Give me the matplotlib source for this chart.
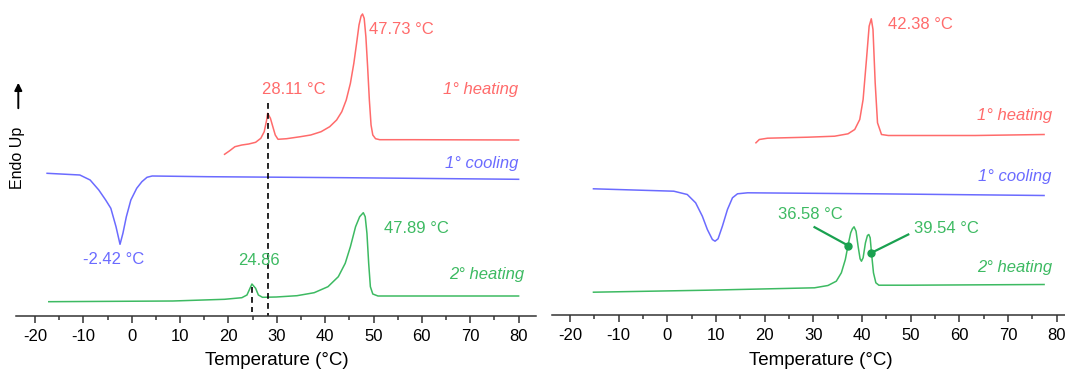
import matplotlib
matplotlib.use("Agg")
import matplotlib.pyplot as plt
from matplotlib.ticker import MultipleLocator

plt.rcParams['font.family'] = ['Liberation Sans', 'DejaVu Sans']
plt.rcParams['axes.unicode_minus'] = False

RED = '#ff6b6b'
BLUE = '#6b6bff'
GREEN = '#3dba62'
DOT = '#1aa150'

# ---- left sample: heat flow (a.u.) ----
l_heat1_T = [19.2, 20.27, 21.34, 22.77, 24.19, 25.62, 26.69, 27.4, 27.9, 28.11, 28.68,
             29.18, 29.68, 30.25, 32.03, 34.88, 37.02, 39.16, 40.94, 42.37, 43.44, 44.36,
             45.22, 45.93, 46.5, 47.0, 47.43, 47.73, 48.07, 48.42, 48.78, 49.14, 49.49,
             49.85, 50.42, 51.28, 58.4, 80.0]
l_heat1_y = [161.7, 165.3, 169.3, 171.0, 172.0, 173.7, 177.7, 184.3, 196.0, 202.7, 197.7,
             189.3, 181.0, 176.7, 177.3, 179.3, 181.0, 184.3, 189.3, 196.0, 204.3, 216.0,
             232.7, 252.7, 272.7, 291.0, 300.0, 302.0, 297.7, 279.3, 249.3, 216.0, 191.0,
             181.0, 177.3, 176.3, 176.3, 176.0]

l_cool_T = [-17.5, -10.73, -8.6, -6.81, -5.39, -4.32, -3.25, -2.42, -1.82, -1.11, -0.18,
            1.03, 2.1, 3.16, 4.23, 15.64, 44.1, 80.0]
l_cool_y = [142.7, 141.0, 136.0, 126.0, 116.0, 107.7, 89.3, 71.7, 82.7, 99.3, 116.0,
            127.7, 134.3, 138.7, 140.0, 139.3, 138.3, 136.7]

l_heat2_T = [-17.15, 8.5, 19.2, 22.77, 23.83, 24.55, 24.86, 25.62, 26.19, 27.04, 29.89,
             34.17, 37.73, 40.58, 42.72, 44.15, 45.22, 46.29, 47.14, 47.89, 48.28, 48.64,
             49.0, 49.35, 49.85, 50.92, 58.4, 80.0]
l_heat2_y = [14.3, 15.0, 16.7, 18.3, 21.0, 28.7, 32.0, 27.7, 21.0, 18.7, 19.0,
             20.3, 23.3, 29.3, 39.3, 52.7, 69.3, 89.3, 99.3, 103.3, 99.3, 82.7,
             52.7, 29.3, 22.0, 20.0, 20.0, 20.0]

# ---- right sample ----
r_heat1_T = [18.2, 18.89, 20.6, 28.86, 34.37, 37.12, 38.5, 39.53, 40.22, 40.91, 41.46,
             41.9, 42.25, 42.7, 43.18, 44.0, 45.38, 63.28, 77.4]
r_heat1_y = [171.7, 175.0, 176.3, 177.3, 178.3, 180.7, 185.0, 195.0, 215.0, 255.0, 288.3,
             295.7, 285.0, 231.7, 191.7, 180.0, 179.0, 179.0, 180.0]

r_cool_T = [-15.18, -5.55, 1.33, 4.09, 5.81, 7.19, 8.22, 9.25, 9.8, 10.42, 11.31,
            12.35, 13.38, 14.41, 16.48, 42.63, 77.4]
r_cool_y = [125.7, 124.3, 123.3, 120.0, 111.7, 98.3, 85.0, 75.0, 73.3, 75.7, 88.3,
            105.0, 116.7, 120.7, 121.7, 120.7, 119.0]

r_heat2_T = [-15.18, 8.22, 30.24, 33.0, 34.71, 35.75, 36.57, 37.12, 37.67, 38.02, 38.36,
             38.77, 39.19, 39.6, 39.88, 40.22, 40.7, 41.11, 41.39, 41.67, 41.94, 42.35,
             42.84, 43.46, 49.5, 77.4]
r_heat2_y = [22.3, 24.3, 26.7, 29.0, 33.3, 41.7, 55.0, 69.0, 81.7, 85.7, 87.7,
             83.3, 68.3, 55.7, 53.3, 56.7, 71.7, 79.0, 80.0, 76.7, 61.7, 41.7,
             31.7, 29.3, 29.3, 30.0]

r_mark_T = [37.12, 41.94]
r_mark_y = [69.0, 61.7]

xticks = [-20, -10, 0, 10, 20, 30, 40, 50, 60, 70, 80]

fig = plt.figure(figsize=(10.65, 3.70), dpi=100)
axL = fig.add_axes([16 / 1065, 54 / 370, 520 / 1065, 316 / 370])
axR = fig.add_axes([551.7 / 1065, 55.5 / 370, 513.3 / 1065, 314.5 / 370])


def style(ax, xlim, ytop, labx, laby):
    ax.set_xlim(*xlim)
    ax.set_ylim(0, ytop)
    for s in ('left', 'right', 'top'):
        ax.spines[s].set_visible(False)
    ax.spines['bottom'].set_color('#333333')
    ax.spines['bottom'].set_linewidth(1.1)
    ax.set_yticks([])
    ax.set_xticks(xticks)
    ax.set_xticklabels([str(t) for t in xticks])
    ax.xaxis.set_minor_locator(MultipleLocator(5))
    ax.tick_params(axis='x', which='major', direction='out', length=5, width=1.1,
                   color='#333333', labelsize=12, pad=4.5)
    ax.tick_params(axis='x', which='minor', direction='out', length=3, width=1.1,
                   color='#333333')
    ax.set_xlabel('Temperature (°C)', fontsize=13.5)
    ax.xaxis.set_label_coords(labx, laby)
    ax.patch.set_alpha(0)


style(axL, (-23.93, 83.6), 316, 0.501, -0.115)
style(axR, (-23.76, 81.7), 314.5, 0.5246, -0.120)

lw = 1.1
axL.plot(l_heat1_T, l_heat1_y, color=RED, lw=lw)
axL.plot(l_cool_T, l_cool_y, color=BLUE, lw=lw)
axL.plot(l_heat2_T, l_heat2_y, color=GREEN, lw=lw)
axL.plot([28.11, 28.11], [212.7, 0], color='black', lw=1.2, ls=(0, (3.5, 2.5)))
axL.plot([24.86, 24.86], [29.3, 4.3], color='black', lw=1.2, ls=(0, (3.5, 2.5)))

fs = 12
axL.text(49.0, 286, '47.73 °C', color=RED, fontsize=fs, ha='left', va='center')
axL.text(33.6, 226.7, '28.11 °C', color=RED, fontsize=fs, ha='center', va='center')
axL.text(80, 226.7, '1° heating', color=RED, fontsize=fs, ha='right', va='center', style='italic')
axL.text(80, 152.7, '1° cooling', color=BLUE, fontsize=fs, ha='right', va='center', style='italic')
axL.text(-3.7, 56.7, '-2.42 °C', color=BLUE, fontsize=fs, ha='center', va='center')
axL.text(26.4, 55.3, '24.86', color=GREEN, fontsize=fs, ha='center', va='center')
axL.text(52.1, 87.7, '47.89 °C', color=GREEN, fontsize=fs, ha='left', va='center')
axL.text(81.2, 41, '2° heating', color=GREEN, fontsize=fs, ha='right', va='center', style='italic')

axR.plot(r_heat1_T, r_heat1_y, color=RED, lw=lw)
axR.plot(r_cool_T, r_cool_y, color=BLUE, lw=lw)
axR.plot(r_heat2_T, r_heat2_y, color=GREEN, lw=lw)
axR.plot([30.24, r_mark_T[0]], [87.3, r_mark_y[0]], color=DOT, lw=1.6)
axR.plot([r_mark_T[1], 49.5], [r_mark_y[1], 80.0], color=DOT, lw=1.6)
axR.plot(r_mark_T, r_mark_y, 'o', color=DOT, ms=5)

axR.text(45.38, 290, '42.38 °C', color=RED, fontsize=fs, ha='left', va='center')
axR.text(79.1, 199, '1° heating', color=RED, fontsize=fs, ha='right', va='center', style='italic')
axR.text(78.8, 138.3, '1° cooling', color=BLUE, fontsize=fs, ha='right', va='center', style='italic')
axR.text(29.3, 100, '36.58 °C', color=GREEN, fontsize=fs, ha='center', va='center')
axR.text(50.75, 85.7, '39.54 °C', color=GREEN, fontsize=fs, ha='left', va='center')
axR.text(79.1, 46.7, '2° heating', color=GREEN, fontsize=fs, ha='right', va='center', style='italic')

# y label with arrow
fig.text(17.5 / 1065, 1 - 157.5 / 370, 'Endo Up', rotation=90, ha='center', va='center', fontsize=11.5)
fig.patches.append(matplotlib.patches.FancyArrowPatch(
    (18.3 / 1065, 1 - 111 / 370), (18.3 / 1065, 1 - 80 / 370), transform=fig.transFigure,
    arrowstyle='-|>', mutation_scale=11, lw=1.4, color='black'))

fig.savefig('out.png', dpi=100)
